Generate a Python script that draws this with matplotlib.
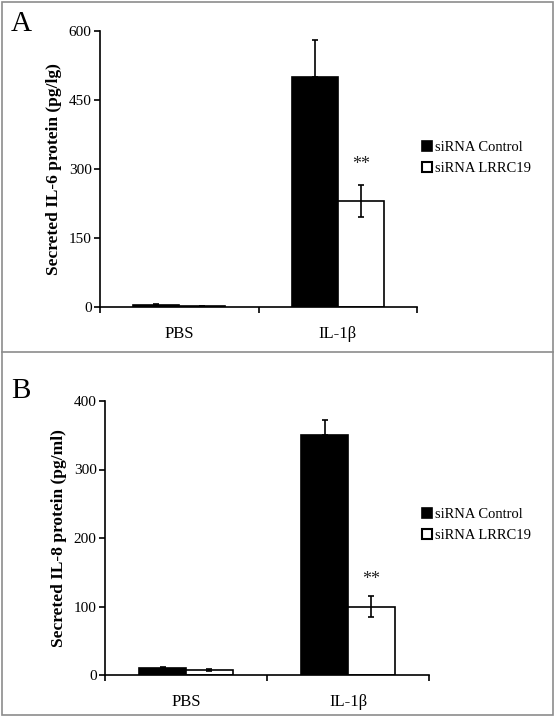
import matplotlib
matplotlib.use("Agg")
import matplotlib.pyplot as plt
from matplotlib.patches import Rectangle, Patch
from matplotlib.lines import Line2D
import numpy as np

plt.rcParams['font.family'] = ['Liberation Serif', 'DejaVu Serif']
plt.rcParams['mathtext.fontset'] = 'stix'

categories = ["PBS", "IL-1β"]
series_names = ["siRNA Control", "siRNA LRRC19"]

il6_control = [5, 500]
il6_control_err = [1.5, 80]
il6_lrrc19 = [2, 230]
il6_lrrc19_err = [0.8, 35]

il8_control = [10, 350]
il8_control_err = [2, 22]
il8_lrrc19 = [7, 100]
il8_lrrc19_err = [1.5, 15]

W, H = 555, 717
fig = plt.figure(figsize=(W / 100, H / 100), dpi=100)

gray = "#8c8c8c"
# outer frame and divider
fig.add_artist(Rectangle((1.5 / W, 2.5 / H), (W - 4) / W, (H - 4) / H,
                         transform=fig.transFigure, fill=False, edgecolor=gray, lw=1.2))
fig.add_artist(Line2D([1.5 / W, (W - 2.5) / W], [1 - 352 / H, 1 - 352 / H],
                      transform=fig.transFigure, color=gray, lw=1.2))


def px_axes(left, right, top, bottom):
    return fig.add_axes([left / W, 1 - bottom / H, (right - left) / W, (bottom - top) / H])


def draw_panel(ax, ctrl, ctrl_err, lr, lr_err, ymax, yticks, ylabel, star_y, legend_y, letter, letter_pos):
    x = np.arange(len(categories)) + 0.5
    bw = 0.29
    ax.bar(x - bw / 2, ctrl, bw, color="black", edgecolor="black", lw=1.2, zorder=2)
    ax.bar(x + bw / 2, lr, bw, color="white", edgecolor="black", lw=1.2, zorder=2)
    ax.errorbar(x - bw / 2, ctrl, yerr=[np.zeros(len(ctrl)), ctrl_err], fmt="none",
                ecolor="black", elinewidth=1.2, capsize=2, capthick=1.2, zorder=3)
    ax.errorbar(x + bw / 2, lr, yerr=lr_err, fmt="none",
                ecolor="black", elinewidth=1.2, capsize=2, capthick=1.2, zorder=3)
    ax.text(x[1] + bw / 2, star_y, "**", ha="center", va="center", fontsize=13, color="#222222")
    ax.set_xlim(0, 2)
    ax.set_ylim(0, ymax)
    ax.set_yticks(yticks)
    ax.set_yticklabels([str(t) for t in yticks], fontsize=11)
    ax.set_xticks([0, 1, 2])
    ax.set_xticklabels([])
    ax.set_xticks(x, minor=True)
    ax.set_xticklabels(categories, minor=True, fontsize=12)
    ax.tick_params(axis="x", which="minor", length=0, pad=14)
    ax.tick_params(axis="x", which="major", length=4, width=1.2, direction="out")
    ax.tick_params(axis="y", length=4, width=1.2, direction="out", pad=2)
    for s in ["top", "right"]:
        ax.spines[s].set_visible(False)
    for s in ["left", "bottom"]:
        ax.spines[s].set_linewidth(1.2)
    ax.set_ylabel(ylabel, fontsize=12.5, fontweight="bold", labelpad=5)
    handles = [Patch(facecolor="black", edgecolor="black", lw=1.2, label=series_names[0]),
               Patch(facecolor="white", edgecolor="black", lw=1.5, label=series_names[1])]
    fig.legend(handles=handles, loc="center left", bbox_to_anchor=(422 / W, 1 - legend_y / H),
               frameon=False, fontsize=10.5, handlelength=0.7, handleheight=0.7,
               handletextpad=0.2, labelspacing=0.55, borderaxespad=0, borderpad=0)
    fig.text(letter_pos[0] / W, 1 - letter_pos[1] / H, letter, fontsize=21,
             ha="left", va="baseline")


axA = px_axes(100, 417, 31, 307)
draw_panel(axA, il6_control, il6_control_err, il6_lrrc19, il6_lrrc19_err,
           600, [0, 150, 300, 450, 600], "Secreted IL-6 protein (pg/lg)",
           310, 158, "A", (11, 31))

axB = px_axes(105, 429, 401, 675)
draw_panel(axB, il8_control, il8_control_err, il8_lrrc19, il8_lrrc19_err,
           400, [0, 100, 200, 300, 400], "Secreted IL-8 protein (pg/ml)",
           139, 525, "B", (11, 398))

fig.savefig("out.png", dpi=100)
